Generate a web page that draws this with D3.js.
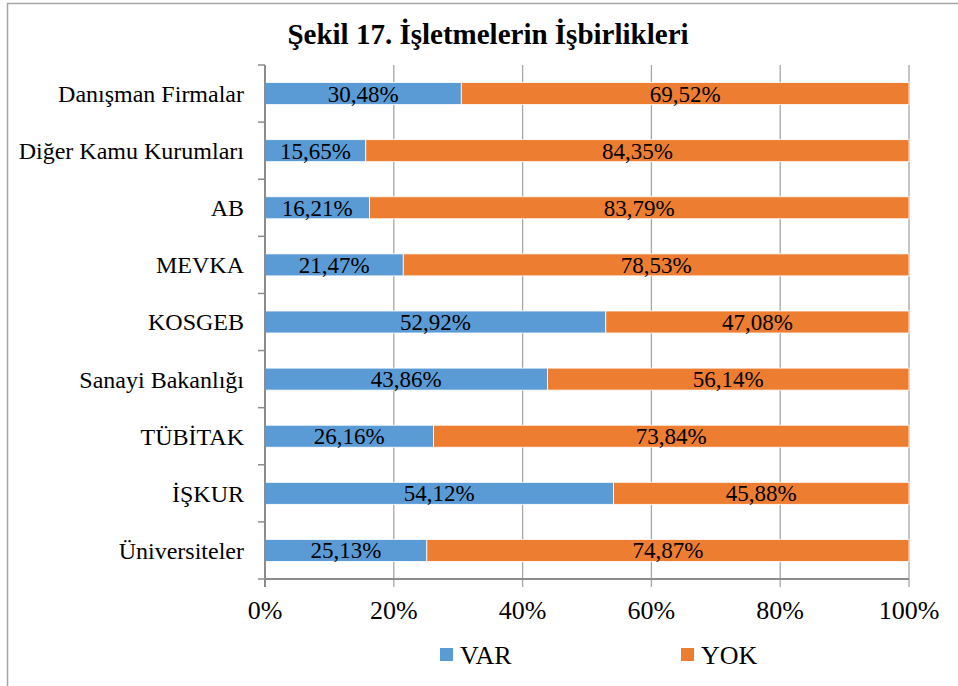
<!DOCTYPE html>
<html>
<head>
<meta charset="utf-8">
<script src="https://cdn.jsdelivr.net/npm/d3@7"></script>
<style>
  body { margin: 0; background: #fff; }
</style>
</head>
<body>
<div class="vis-barchart"></div>
<script>
const categories = ["Danışman Firmalar", "Diğer Kamu Kurumları", "AB", "MEVKA", "KOSGEB",
  "Sanayi Bakanlığı", "TÜBİTAK", "İŞKUR", "Üniversiteler"];
const varValues = [30.48, 15.65, 16.21, 21.47, 52.92, 43.86, 26.16, 54.12, 25.13];
const yokValues = [69.52, 84.35, 83.79, 78.53, 47.08, 56.14, 73.84, 45.88, 74.87];
const seriesNames = ["VAR", "YOK"];
const xTicks = [0, 20, 40, 60, 80, 100];
const colors = ["#5B9BD5", "#ED7D31"];

const FONT = "'Liberation Serif', 'Times New Roman', Times, serif";
const W = 958, H = 686;
const margin = {top: 65, right: 49, bottom: 107, left: 265};
const width = W - margin.left - margin.right;
const height = H - margin.top - margin.bottom;

const root = d3.select('.vis-barchart').append('svg')
  .attr('width', W).attr('height', H)
  .attr('font-family', FONT);

// outer frame
root.append('rect')
  .attr('x', 7.5).attr('y', 3.5).attr('width', W + 20).attr('height', H + 20)
  .attr('fill', 'none').attr('stroke', '#A6A6A6').attr('stroke-width', 1.5);

root.append('text')
  .attr('x', 488).attr('y', 44)
  .attr('text-anchor', 'middle')
  .style('font-family', FONT)
  .style('font-size', '29px').style('font-weight', 'bold')
  .text('Şekil 17. İşletmelerin İşbirlikleri');

const svg = root.append('g')
  .attr('transform', 'translate(' + margin.left + ',' + margin.top + ')');

const x = d3.scaleLinear().domain([0, 100]).range([0, width]);
const y = d3.scaleBand().domain(categories).range([0, height])
  .paddingInner(0.615).paddingOuter(0.3075);
const yBand = d3.scaleBand().domain(categories).range([0, height]);

// gridlines + bottom ticks
svg.selectAll('.grid')
  .data(xTicks.slice(1))
  .enter().append('line')
  .attr('x1', d => x(d)).attr('x2', d => x(d))
  .attr('y1', 0).attr('y2', height + 8)
  .attr('stroke', '#A6A6A6').attr('stroke-width', 1.3);

const rows = categories.map((c, i) => ({cat: c, v: varValues[i], y: yokValues[i]}));
const stacked = d3.stack().keys(['v', 'y'])(rows);

svg.selectAll('.series')
  .data(stacked)
  .enter().append('g')
  .attr('fill', (d, i) => colors[i])
  .selectAll('rect')
  .data(d => d)
  .enter().append('rect')
  .attr('x', d => x(d[0]))
  .attr('width', d => x(d[1]) - x(d[0]))
  .attr('y', d => y(d.data.cat))
  .attr('height', y.bandwidth())
  .attr('stroke', '#fff').attr('stroke-width', 0.8);

// data labels
stacked.forEach(s => {
  svg.selectAll('.lbl-' + s.key)
    .data(s)
    .enter().append('text')
    .attr('x', d => x((d[0] + d[1]) / 2))
    .attr('y', d => y(d.data.cat) + y.bandwidth() / 2)
    .attr('dy', '0.35em')
    .attr('text-anchor', 'middle')
    .style('font-family', FONT)
    .style('font-size', '23px')
    .text(d => (d[1] - d[0]).toFixed(2).replace('.', ',') + '%');
});

// y axis
const yAxis = svg.append('g');
yAxis.append('line')
  .attr('x1', 0).attr('x2', 0).attr('y1', 0).attr('y2', height + 8)
  .attr('stroke', '#8C8C8C').attr('stroke-width', 2);
yAxis.selectAll('.ytick')
  .data(categories.concat(['end']))
  .enter().append('line')
  .attr('x1', -7).attr('x2', 0)
  .attr('y1', (d, i) => i < categories.length ? yBand(d) : height)
  .attr('y2', (d, i) => i < categories.length ? yBand(d) : height)
  .attr('stroke', '#8C8C8C').attr('stroke-width', 1.5);
yAxis.selectAll('.ylabel')
  .data(categories)
  .enter().append('text')
  .attr('x', -21)
  .attr('y', d => yBand(d) + yBand.bandwidth() / 2)
  .attr('dy', '0.35em')
  .attr('text-anchor', 'end')
  .style('font-family', FONT)
  .style('font-size', '24px')
  .text(d => d);

// x axis
const xAxis = svg.append('g').attr('transform', 'translate(0,' + height + ')');
xAxis.append('line')
  .attr('x1', 0).attr('x2', width)
  .attr('stroke', '#8C8C8C').attr('stroke-width', 2);
xAxis.selectAll('text')
  .data(xTicks)
  .enter().append('text')
  .attr('x', d => x(d))
  .attr('y', 40)
  .attr('text-anchor', 'middle')
  .style('font-family', FONT)
  .style('font-size', '26px')
  .text(d => d + '%');

// legend
const legendX = [440, 681];
const legend = root.selectAll('.legend')
  .data(seriesNames)
  .enter().append('g')
  .attr('transform', (d, i) => 'translate(' + legendX[i] + ',648)');
legend.append('rect')
  .attr('width', 13).attr('height', 13)
  .attr('fill', (d, i) => colors[i]);
legend.append('text')
  .attr('x', 20).attr('y', 16)
  .style('font-family', FONT)
  .style('font-size', '26px')
  .text(d => d);
</script>
</body>
</html>
